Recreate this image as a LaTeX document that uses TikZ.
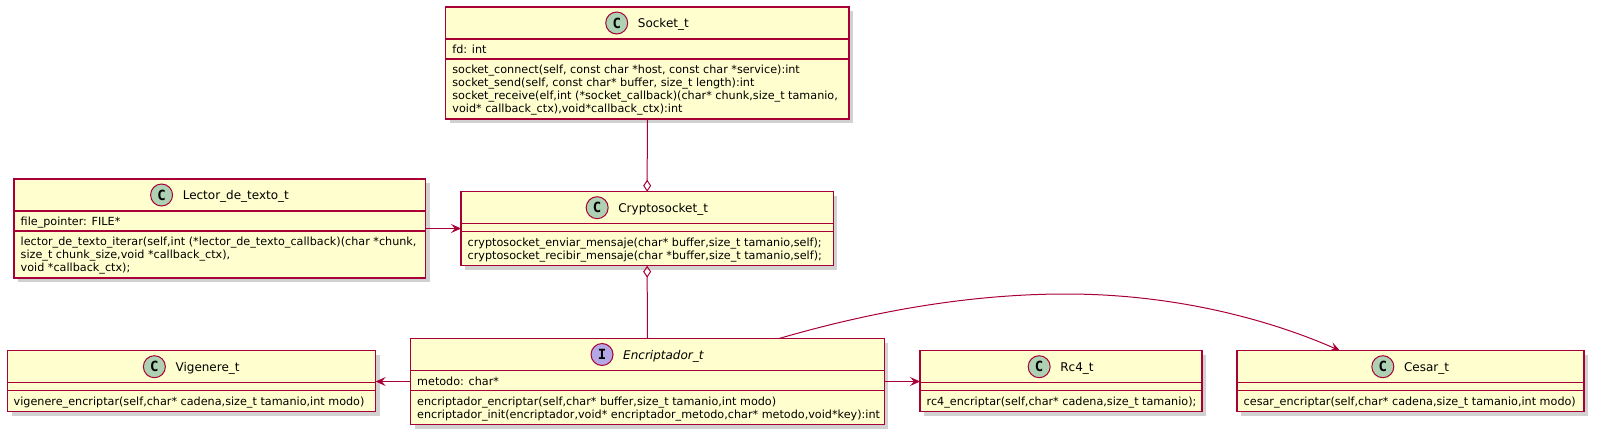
\documentclass[tikz,border=0pt]{standalone}
\usepackage{fontspec}
\setmainfont{DejaVu Sans}
\setmonofont{DejaVu Sans Mono}
\usetikzlibrary{arrows.meta,shadows,calc}
\definecolor{umlborder}{HTML}{A80036}
\definecolor{umlfill}{HTML}{FEFECE}
\definecolor{cfill}{HTML}{ADD1B2}
\definecolor{ifill}{HTML}{B4A7E5}
\tikzset{
  classbox/.style={rectangle, draw=umlborder, fill=umlfill, line width=1.5pt, inner sep=0pt, outer sep=0pt,
    drop shadow={shadow xshift=4pt, shadow yshift=-4pt, fill=black!60, opacity=0.3}},
  divline/.style={draw=umlborder, line width=1.2pt},
  namefont/.style={inner sep=0pt, font=\fontsize{12}{14}\selectfont},
  mem/.style={inner sep=0pt, anchor=base west, font=\fontsize{11.2}{13}\selectfont},
  spotC/.style={circle, draw=umlborder, fill=cfill, line width=1pt, minimum size=22pt, inner sep=0pt,
    font=\ttfamily\bfseries\fontsize{14}{14}\selectfont},
  spotI/.style={spotC, fill=ifill},
  conn/.style={draw=umlborder, line width=1pt},
  umlarrow/.tip={Stealth[length=10pt,width=9pt,inset=4pt]},
  umldiamond/.tip={Diamond[open,length=12pt,width=8pt]},
}
% #1 id, #2 left, #3 top, #4 right, #5 attribute height, #6 methods height, #7 spot letter, #8 name
\newcommand\umlclass[8]{%
  \pgfmathsetmacro\umlHB{#3+32}%
  \pgfmathsetmacro\umlAB{#3+32+#5}%
  \node[classbox, minimum width={#4-#2}, minimum height={32+#5+#6}, anchor=north west] (#1) at (#2,#3) {};
  \draw[divline] (#2,\umlHB) -- (#4,\umlHB);
  \draw[divline] (#2,\umlAB) -- (#4,\umlAB);
  \node[namefont, anchor=base] (#1-name) at ({(#2+#4)/2+16},{#3+20.5}) {#8};
  \node[spot#7] (#1-spot) at ($(#1-name.base west)+(-21,-4.5)$) {#7};
}
\begin{document}
\begin{tikzpicture}[x=1pt,y=-1pt]
\useasboundingbox (0,0) rectangle (1597,437);

% Socket_t
\umlclass{sock}{445.7}{7}{849}{20}{60}{C}{Socket\_t}
\node[mem] (sock-a1) at (452.2,53.5) {fd: int};
\node[mem] (sock-m1) at (452.2,73.5) {socket\_connect(self, const char *host, const char *service):int};
\node[mem] (sock-m2) at (452.2,86.5) {socket\_send(self, const char* buffer, size\_t length):int};
\node[mem] (sock-m3) at (452.2,99.5) {socket\_receive(elf,int (*socket\_callback)(char* chunk,size\_t tamanio,};
\node[mem] (sock-m4) at (452.2,112.5) {void* callback\_ctx),void*callback\_ctx):int};

% Lector_de_texto_t
\umlclass{lect}{14}{179}{425.7}{20}{47}{C}{Lector\_de\_texto\_t}
\node[mem] (lect-a1) at (20.5,225.5) {file\_pointer: FILE*};
\node[mem] (lect-m1) at (20.5,245.5) {lector\_de\_texto\_iterar(self,int (*lector\_de\_texto\_callback)(char *chunk,};
\node[mem] (lect-m2) at (20.5,258.5) {size\_t chunk\_size,void *callback\_ctx),};
\node[mem] (lect-m3) at (20.5,271.5) {void *callback\_ctx);};

% Cryptosocket_t
\umlclass{cryp}{461}{191.7}{833.3}{8}{34}{C}{Cryptosocket\_t}
\node[mem] (cryp-m1) at (467.5,246.2) {cryptosocket\_enviar\_mensaje(char* buffer,size\_t tamanio,self);};
\node[mem] (cryp-m2) at (467.5,259.2) {cryptosocket\_recibir\_mensaje(char *buffer,size\_t tamanio,self);};

% Encriptador_t
\umlclass{encr}{410.5}{338.5}{884.3}{20}{34}{I}{\itshape Encriptador\_t}
\node[mem] (encr-a1) at (417,385) {metodo: char*};
\node[mem] (encr-m1) at (417,405) {encriptador\_encriptar(self,char* buffer,size\_t tamanio,int modo)};
\node[mem] (encr-m2) at (417,418) {encriptador\_init(encriptador,void* encriptador\_metodo,char* metodo,void*key):int};

% Vigenere_t
\umlclass{vige}{7.5}{350.7}{375.7}{8}{21}{C}{Vigenere\_t}
\node[mem] (vige-m1) at (13.5,405.2) {vigenere\_encriptar(self,char* cadena,size\_t tamanio,int modo)};

% Rc4_t
\umlclass{rc4}{920}{350.7}{1202}{8}{21}{C}{Rc4\_t}
\node[mem] (rc4-m1) at (926.5,405.2) {rc4\_encriptar(self,char* cadena,size\_t tamanio);};

% Cesar_t
\umlclass{cesa}{1237}{350.7}{1584}{8}{21}{C}{Cesar\_t}
\node[mem] (cesa-m1) at (1243.5,405.2) {cesar\_encriptar(self,char* cadena,size\_t tamanio,int modo)};

% connectors
\draw[conn, -umldiamond] (sock.south) -- (cryp.north);
\draw[conn, -umlarrow] (lect.east) -- (cryp.west |- lect.east);
\draw[conn, umldiamond-] (cryp.south) -- (encr.north);
\draw[conn, -umlarrow] (encr.west) -- (vige.east |- encr.west);
\draw[conn, -umlarrow] (encr.east) -- (rc4.west |- encr.east);
\coordinate (cesOut) at ($(encr.north west)+(368.5,0)$);
\coordinate (cesIn) at ($(cesa.north west)+(103,0)$);
\draw[conn, -umlarrow] (cesOut) .. controls (860,315) and (960,294) .. (1066,294)
  .. controls (1180,294) and (1275,322) .. (cesIn);
\end{tikzpicture}
\end{document}
